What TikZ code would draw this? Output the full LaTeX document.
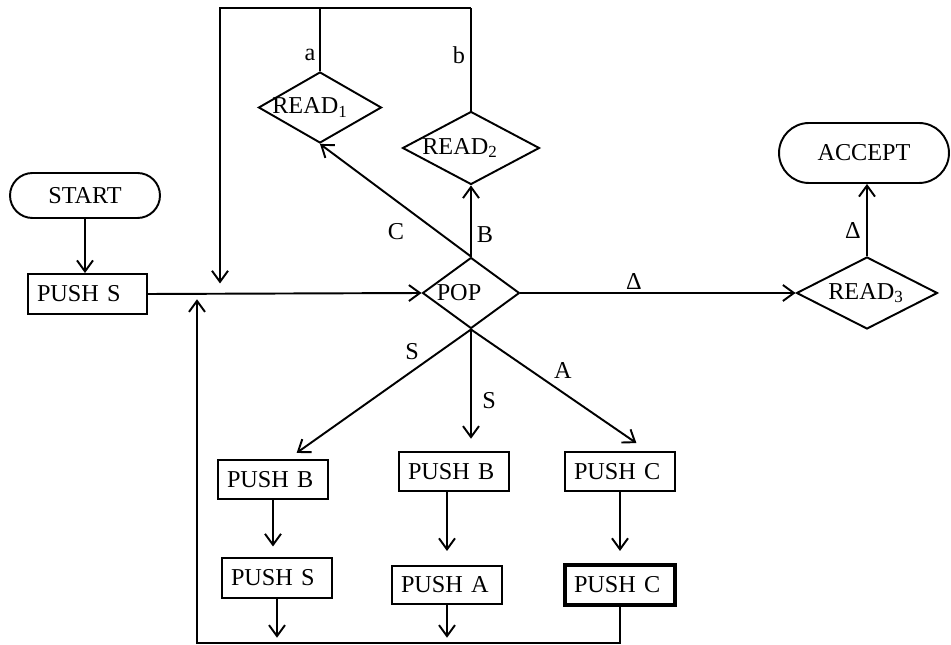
\documentclass[tikz,border=0pt]{standalone}
\usepackage{fontspec}
\setmainfont{Liberation Serif}
\usetikzlibrary{shapes.geometric,shapes.misc,arrows.meta}

\begin{document}
\begin{tikzpicture}[x=0.02cm,y=-0.02cm,font=\fontsize{13.8pt}{16pt}\selectfont,
  line width=1.1pt,
  arr/.style={-{Straight Barb[length=2.2mm,width=3.2mm]}},
  terminal/.style={draw, rounded rectangle, inner sep=0pt},
  decision/.style={draw, diamond, inner sep=0pt},
  box/.style={draw, rectangle, minimum height=0.78cm, text width=1.84cm, inner xsep=0.18cm, align=left}]
\useasboundingbox (0,0) rectangle (951,645);

\node[terminal, minimum width=3cm, minimum height=0.9cm] (start) at (85,195.5) {START};
\node[box, text width=2.02cm, minimum height=0.8cm] (pushS) at (87.5,294) {PUSH S};
\node[decision, minimum width=2.46cm, minimum height=1.42cm, label={[xshift=-0.2cm]center:READ\textsubscript{1}}] (read1) at (320,107.5) {};
\node[decision, minimum width=2.74cm, minimum height=1.46cm, label={[xshift=-0.22cm]center:READ\textsubscript{2}}] (read2) at (471,148) {};
\node[decision, minimum width=1.94cm, minimum height=1.42cm, label={[xshift=-0.24cm]center:POP}] (pop) at (471,293) {};
\node[decision, minimum width=2.82cm, minimum height=1.44cm, label={[xshift=-0.02cm]center:READ\textsubscript{3}}] (read3) at (867,293) {};
\node[terminal, minimum width=3.4cm, minimum height=1.2cm] (accept) at (864,153) {ACCEPT};

\node[box] (pushB1) at (273,479.5) {PUSH B};
\node[box] (pushB2) at (454,471.5) {PUSH B};
\node[box] (pushC1) at (620,471.5) {PUSH C};
\node[box, minimum height=0.8cm] (pushS2) at (277,578) {PUSH S};
\node[box, minimum height=0.76cm] (pushA) at (447,585) {PUSH A};
\node[box, minimum height=0.8cm, line width=2pt] (pushC2) at (620,585) {PUSH C};

\coordinate (tl) at (220,8);
\coordinate (bl) at (197,643);

\draw[arr] (start.south) -- (start.south |- pushS.north);
\draw[arr] (pushS.east) -- (pop.west);
\draw (read1.north) -- (read1.north |- tl);
\draw (read2.north) -- (read2.north |- tl);
\draw[arr, shorten >=6] (read2.north |- tl) -- (tl) -- (tl |- pushS.east);
\node (la) at (310,55) {a};
\node (lb) at (459,55) {b};

\draw[arr] (pop.north) -- (read1.south);
\draw[arr] (pop.north) -- (pop.north |- read2.south);
\node (lC) at (396,232) {C};
\node (lB) at (485,235) {B};
\draw[arr] (pop.east) -- (read3.west);
\node (lD1) at (634,281) {Δ};
\draw[arr] (read3.north) -- (read3.north |- accept.south);
\node (lD2) at (853,230) {Δ};

\draw[arr, shorten >=6] (pop.south) -- ([xshift=0.3cm]pushB1.north);
\draw[arr, shorten >=7] (pop.south) -- (pop.south |- pushB2.north);
\draw[arr, shorten >=8] (pop.south) -- ([xshift=0.56cm]pushC1.north);
\node (lS1) at (412,352) {S};
\node (lS2) at (489,401) {S};
\node (lA) at (563,370) {A};

\draw[arr, shorten >=6] (pushB1.south) -- (pushB1.south |- pushS2.north);
\draw[arr, shorten >=8] (pushA.north |- pushB2.south) -- (pushA.north);
\draw[arr, shorten >=7] (pushC1.south) -- (pushC1.south |- pushC2.north);
\draw[arr, shorten >=3] (pushS2.south) -- (pushS2.south |- bl);
\draw[arr, shorten >=3] (pushA.south) -- (pushA.south |- bl);
\draw[arr, shorten >=3] (pushC2.south) |- (bl) -- (bl |- pushS.east);

\end{tikzpicture}
\end{document}
